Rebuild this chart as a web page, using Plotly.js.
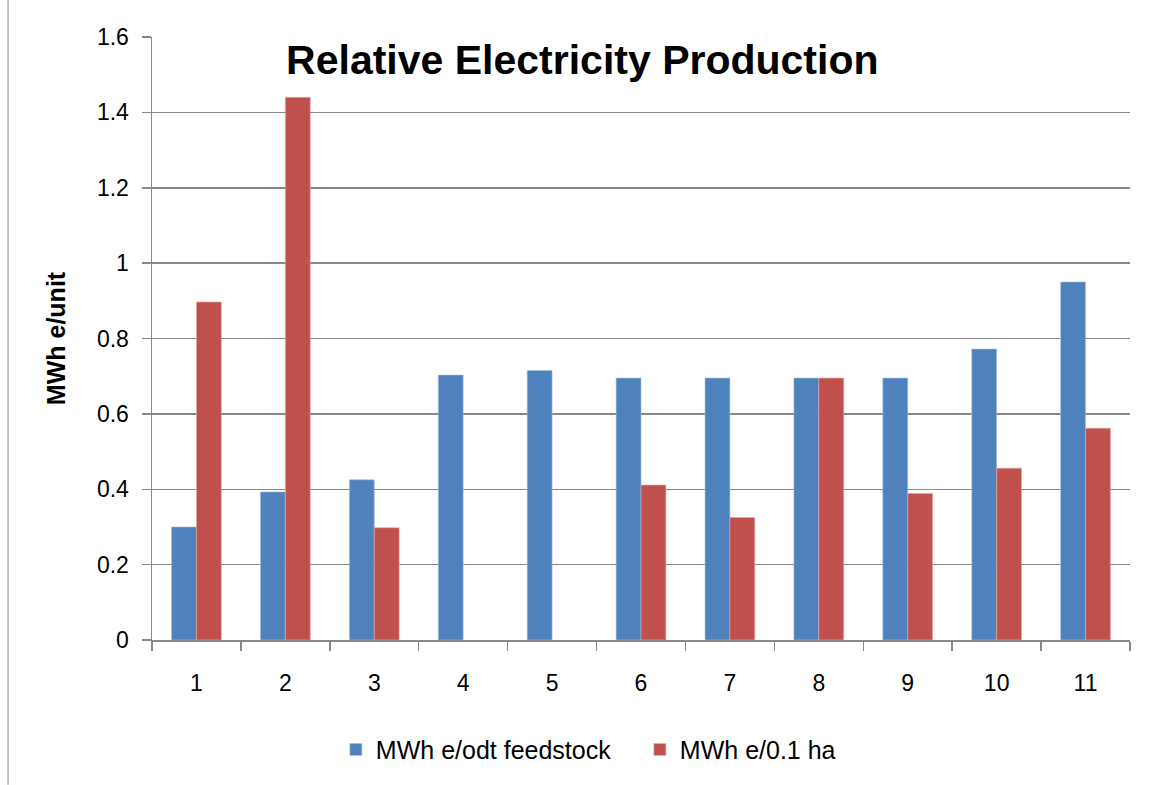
<!DOCTYPE html>
<html><head><meta charset="utf-8">
<script src="https://cdn.plot.ly/plotly-3.0.1.min.js"></script>
<style>html,body{margin:0;padding:0;background:#fff}#chart{width:1151px;height:785px}</style>
</head><body><div id="chart"></div>
<script>
const categories = ["1","2","3","4","5","6","7","8","9","10","11"];
const feedstock = [0.30, 0.393, 0.425, 0.703, 0.715, 0.695, 0.695, 0.695, 0.695, 0.772, 0.95];
const perArea = [0.897, 1.44, 0.298, null, null, 0.411, 0.325, 0.695, 0.389, 0.456, 0.562];
const seriesNames = ["MWh e/odt feedstock", "MWh e/0.1 ha"];
const yTicks = [0, 0.2, 0.4, 0.6, 0.8, 1, 1.2, 1.4, 1.6];

const font = "Liberation Sans, Arial, sans-serif";
const data = [
  {type:"bar", x:categories, y:feedstock, name:seriesNames[0], marker:{color:"#4F81BD", line:{color:"#A7BFDE", width:0.6}}},
  {type:"bar", x:categories, y:perArea, name:seriesNames[1], marker:{color:"#C0504D", line:{color:"#E6A9A8", width:0.6}}}
];
const layout = {
  width:1151, height:785,
  margin:{l:152, r:21, t:37, b:145},
  paper_bgcolor:"#fff", plot_bgcolor:"#fff",
  barmode:"group", bargap:0.44, bargroupgap:0,
  font:{family:font, color:"#000", size:23},
  title:{text:"<b>Relative Electricity Production</b>", x:0.44, xref:"paper", xanchor:"center", y:0.924, yref:"container", yanchor:"middle", font:{size:41, family:font, color:"#000"}},
  xaxis:{type:"category", tickson:"boundaries", ticks:"outside", ticklen:9, tickcolor:"#888", tickwidth:1.5,
    showline:true, linecolor:"#888", linewidth:1.5, showgrid:false, ticklabelstandoff:22, tickfont:{size:23}},
  yaxis:{range:[0,1.6], tickvals:yTicks, ticktext:yTicks.map(v=>String(v)), ticks:"outside", ticklen:9, tickcolor:"#888", tickwidth:1.5,
    showline:true, linecolor:"#888", linewidth:1.5, showgrid:true, gridcolor:"#888", gridwidth:1.5, zeroline:false,
    ticklabelstandoff:8, tickfont:{size:23},
    title:{text:"<b>MWh e/unit</b>", font:{size:25}, standoff:24}},
  legend:{orientation:"h", x:0.188, xanchor:"left", y:-0.182, yanchor:"middle", font:{size:25}, entrywidth:259, entrywidthmode:"pixels"},
  shapes:[{type:"line", xref:"paper", yref:"paper", x0:-0.1472, x1:-0.1472, y0:-0.24, y1:1.062, line:{color:"#888", width:1}}],
  showlegend:true
};
Plotly.newPlot("chart", data, layout, {displayModeBar:false, staticPlot:true});
</script></body></html>
